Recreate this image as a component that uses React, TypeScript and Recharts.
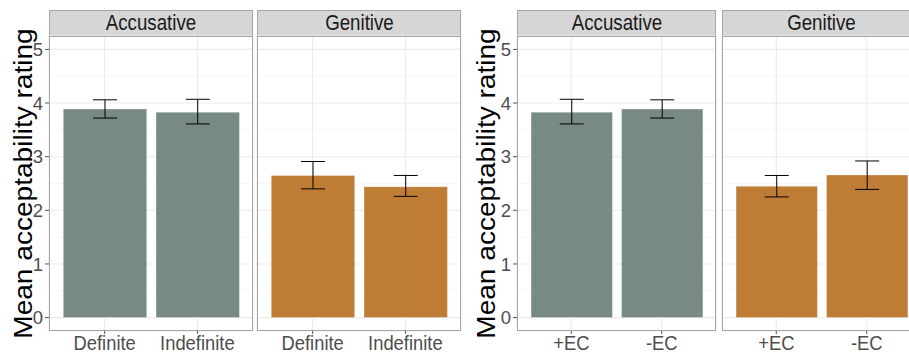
import React from 'react';
import { BarChart, Bar, XAxis, YAxis, CartesianGrid, ErrorBar } from 'recharts';

// ---- data ----
const facetLabels = ['Accusative', 'Genitive'];
const definitenessCategories = ['Definite', 'Indefinite'];
const ecCategories = ['+EC', '-EC'];

const accDefMeans = [3.89, 3.83];
const accDefLower = [3.72, 3.61];
const accDefUpper = [4.06, 4.07];
const genDefMeans = [2.65, 2.44];
const genDefLower = [2.40, 2.26];
const genDefUpper = [2.91, 2.65];

const accEcMeans = [3.83, 3.89];
const accEcLower = [3.61, 3.72];
const accEcUpper = [4.07, 4.06];
const genEcMeans = [2.45, 2.66];
const genEcLower = [2.25, 2.39];
const genEcUpper = [2.65, 2.92];

const yTicks = [0, 1, 2, 3, 4, 5];
const yMinorTicks = [0.5, 1.5, 2.5, 3.5, 4.5];
const yDomain: [number, number] = [-0.25, 5.25];
const yLabel = 'Mean acceptability rating';

// ---- style ----
const FONT = '"Liberation Sans", Arial, Helvetica, sans-serif';
const GREEN = '#778A84';
const ORANGE = '#BF7C35';
const STRIP_TOP = 10;
const PLOT_TOP = 36;
const PLOT_H = 295;
const X_AXIS_H = 25;
const Y_AXIS_W = 49;
const BORDER = '#A6A6A6';

function build(cats: string[], means: number[], lo: number[], hi: number[]) {
  return cats.map((c, i) => ({
    cat: c,
    mean: means[i],
    err: [means[i] - lo[i], hi[i] - means[i]],
  }));
}

const XTick = (props: any) => {
  const { x, y, payload } = props;
  return (
    <g transform={`translate(${x},${y})`}>
      <text transform="scale(0.92,1)" textAnchor="middle" dy="0.71em" fontSize={20} fill="#4D4D4D" fontFamily={FONT}>
        {payload.value}
      </text>
    </g>
  );
};

const YTitle = (props: any) => {
  const { bx } = props;
  const cy = PLOT_H / 2;
  return (
    <text
      transform={`translate(${bx},${cy}) rotate(-90) scale(1.08,1)`}
      textAnchor="middle"
      fontSize={26}
      fill="#000"
      fontFamily={FONT}
    >
      {yLabel}
    </text>
  );
};

type PanelProps = {
  left: number;
  width: number;
  data: any[];
  color: string;
  showY: boolean;
  yTitleX?: number;
  strip: string;
};

function Panel({ left, width, data, color, showY, yTitleX, strip }: PanelProps) {
  const chartLeft = showY ? left - Y_AXIS_W : left;
  const chartW = showY ? width + Y_AXIS_W : width;
  const pad = width * 0.04545;
  const barW = (width * 0.9) / 2.2;
  return (
    <>
      <div
        style={{
          position: 'absolute',
          left,
          top: STRIP_TOP,
          width,
          height: PLOT_TOP - STRIP_TOP + 1,
          background: '#D6D6D6',
          border: `1px solid ${BORDER}`,
          boxSizing: 'border-box',
          display: 'flex',
          alignItems: 'center',
          justifyContent: 'center',
          overflow: 'hidden',
        }}
      >
        <span style={{ fontSize: 21.5, color: '#1A1A1A', fontFamily: FONT, transform: 'scaleX(0.87)', display: 'inline-block', whiteSpace: 'nowrap' }}>
          {strip}
        </span>
      </div>
      <div style={{ position: 'absolute', left: chartLeft, top: PLOT_TOP }}>
        <BarChart width={chartW} height={PLOT_H + X_AXIS_H} data={data} margin={{ top: 0, right: 0, bottom: 0, left: 0 }}>
          <CartesianGrid stroke="#F3F3F3" strokeWidth={0.7} vertical={false} horizontalValues={yMinorTicks} />
          <CartesianGrid stroke="#EBEBEB" strokeWidth={1.1} />
          <XAxis
            dataKey="cat"
            padding={{ left: pad, right: pad }}
            axisLine={false}
            tickLine={{ stroke: '#555' }}
            tickSize={3}
            tickMargin={2}
            height={X_AXIS_H}
            interval={0}
            tick={<XTick />}
          />
          <YAxis
            type="number"
            domain={yDomain}
            ticks={yTicks}
            hide={!showY}
            width={Y_AXIS_W}
            axisLine={false}
            tickLine={{ stroke: '#555' }}
            tickSize={4}
            tickMargin={2}
            tick={{ fontSize: 18.5, fill: '#4D4D4D', fontFamily: FONT }}
            label={showY ? { content: (p: any) => <YTitle {...p} bx={yTitleX} /> } : undefined}
          />
          <Bar dataKey="mean" fill={color} stroke="#FFFFFF" strokeOpacity={0.35} barSize={barW} isAnimationActive={false}>
            <ErrorBar dataKey="err" direction="y" width={12} stroke="#000" strokeWidth={1} isAnimationActive={false} />
          </Bar>
        </BarChart>
      </div>
      <div
        style={{
          position: 'absolute',
          left,
          top: PLOT_TOP,
          width,
          height: PLOT_H,
          border: `1px solid ${BORDER}`,
          boxSizing: 'border-box',
          pointerEvents: 'none',
        }}
      />
    </>
  );
}

export default function App() {
  return (
    <div style={{ position: 'absolute', left: 0, top: 0, width: 909, height: 356, overflow: 'hidden', background: '#fff', fontFamily: FONT }}>
      <style>{'.recharts-surface { overflow: visible; }'}</style>
      <Panel left={49} width={204} data={build(definitenessCategories, accDefMeans, accDefLower, accDefUpper)} color={GREEN} showY yTitleX={32} strip={facetLabels[0]} />
      <Panel left={257} width={204} data={build(definitenessCategories, genDefMeans, genDefLower, genDefUpper)} color={ORANGE} showY={false} strip={facetLabels[1]} />
      <Panel left={517} width={199} data={build(ecCategories, accEcMeans, accEcLower, accEcUpper)} color={GREEN} showY yTitleX={27} strip={facetLabels[0]} />
      <Panel left={722} width={199} data={build(ecCategories, genEcMeans, genEcLower, genEcUpper)} color={ORANGE} showY={false} strip={facetLabels[1]} />
    </div>
  );
}
